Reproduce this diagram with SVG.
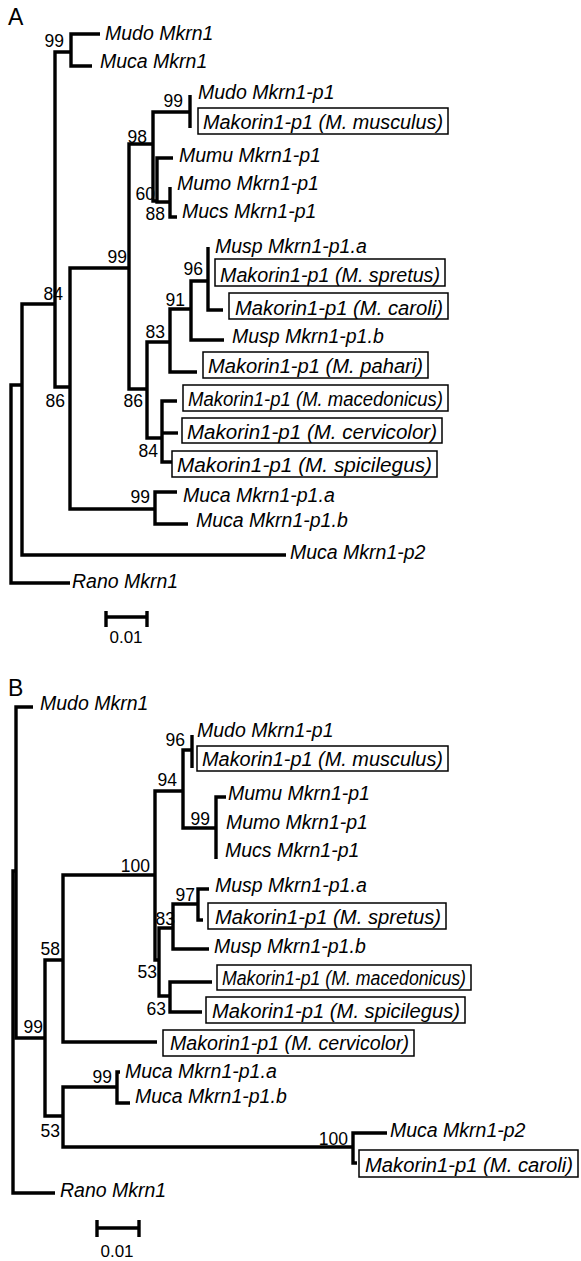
<svg xmlns="http://www.w3.org/2000/svg" width="581" height="1261" viewBox="0 0 581 1261">
<style>
.br{fill:none;stroke:#000;stroke-width:3.4;stroke-linejoin:miter}
.lf{font-family:"Liberation Sans",Arial,sans-serif;font-style:italic;font-size:19.5px;fill:#000}
.bs{font-family:"Liberation Sans",Arial,sans-serif;font-size:17.5px;fill:#000;text-anchor:end}
.bx{fill:#fff;stroke:#000;stroke-width:1.5}
.pl{font-family:"Liberation Sans",Arial,sans-serif;font-size:23px;fill:#000}
.sc{font-family:"Liberation Sans",Arial,sans-serif;font-size:17px;fill:#000;text-anchor:middle}
</style>
<rect width="581" height="1261" fill="#fff"/>
<text class="pl" x="8" y="25">A</text>
<text class="pl" x="8" y="696">B</text>
<g id="connectors">
<g id="treeA">
<path class="br" d="M70 583 H11 V385 H22"/>
<path class="br" d="M55 304 H22 V555 H286"/>
<path class="br" d="M71 52 H55 V387 H70"/>
<path class="br" d="M100 34 H71 V66 H92"/>
<path class="br" d="M129 268 H70 V509 H155"/>
<path class="br" d="M177 492 H155 V524 H188"/>
<path class="br" d="M153 144 H129 V389 H147"/>
<path class="br" d="M190 112 H153 V201 H157"/>
<path class="br" d="M190 95 V128"/>
<path class="br" d="M173 158 H157 V202 H170"/>
<path class="br" d="M170 187 V217 H177"/>
<path class="br" d="M170 342 H147 V438 H162"/>
<path class="br" d="M191 309 H170 V372 H197"/>
<path class="br" d="M208 281 H191 V340 H224"/>
<path class="br" d="M208 247 V310 H223"/>
<path class="br" d="M177 401 H162 V462 H172"/>
<path class="br" d="M162 433 H178"/>
<path class="br" d="M106 617 H147 M106 611 V627 M147 611 V627"/>
</g>
<g id="treeB">
<path class="br" d="M16 871 H13 V1193 H55"/>
<path class="br" d="M33 707 H16 V1038 H45"/>
<path class="br" d="M63 960 H45 V1116 H63"/>
<path class="br" d="M155 875 H63 V1042 H157"/>
<path class="br" d="M183 791 H155 V960 H159"/>
<path class="br" d="M192 750 H183 V828 H216"/>
<path class="br" d="M192 735 V768"/>
<path class="br" d="M226 797 H216 V859"/>
<path class="br" d="M173 928 H159 V996 H170"/>
<path class="br" d="M198 904 H173 V949 H209"/>
<path class="br" d="M209 889 H198 V920 H203"/>
<path class="br" d="M212 982 H170 V1012 H202"/>
<path class="br" d="M117 1087 H63 V1147 H353"/>
<path class="br" d="M120 1072 H117 V1103 H130"/>
<path class="br" d="M387 1133 H353 V1163 H357"/>
<path class="br" d="M97 1228 H139 M97 1220 V1237 M139 1220 V1237"/>
</g>
</g>
<g id="support">
<text class="bs" x="64" y="47">99</text>
<text class="bs" x="183" y="107">99</text>
<text class="bs" x="147" y="143">98</text>
<text class="bs" x="155" y="200">60</text>
<text class="bs" x="165" y="220">88</text>
<text class="bs" x="127" y="263">99</text>
<text class="bs" x="203" y="275">96</text>
<text class="bs" x="185" y="306">91</text>
<text class="bs" x="165" y="338">83</text>
<text class="bs" x="63" y="300">84</text>
<text class="bs" x="65" y="407">86</text>
<text class="bs" x="143" y="407">86</text>
<text class="bs" x="158" y="457">84</text>
<text class="bs" x="150" y="503">99</text>
<text class="bs" x="185" y="746">96</text>
<text class="bs" x="177" y="786">94</text>
<text class="bs" x="210" y="825">99</text>
<text class="bs" x="150" y="872">100</text>
<text class="bs" x="195" y="901">97</text>
<text class="bs" x="175" y="925">83</text>
<text class="bs" x="157" y="978">53</text>
<text class="bs" x="166" y="1015">63</text>
<text class="bs" x="60" y="955">58</text>
<text class="bs" x="43" y="1033">99</text>
<text class="bs" x="112" y="1083">99</text>
<text class="bs" x="60" y="1137">53</text>
<text class="bs" x="348" y="1145">100</text>
</g>
<g id="scaleA"><text class="sc" x="126" y="643">0.01</text></g>
<g id="scaleB"><text class="sc" x="117" y="1257">0.01</text></g>
<g id="A-Mudo-Mkrn1"><text class="lf" x="105" y="40">Mudo Mkrn1</text></g>
<g id="A-Muca-Mkrn1"><text class="lf" x="100" y="68">Muca Mkrn1</text></g>
<g id="A-Mudo-Mkrn1-p1"><text class="lf" x="198" y="99">Mudo Mkrn1-p1</text></g>
<g id="A-musculus"><rect class="bx" x="198" y="108" width="250" height="26"/><text class="lf" x="203" y="129" textLength="240" lengthAdjust="spacingAndGlyphs">Makorin1-p1 (M. musculus)</text></g>
<g id="A-Mumu"><text class="lf" x="179" y="162">Mumu Mkrn1-p1</text></g>
<g id="A-Mumo"><text class="lf" x="177" y="190">Mumo Mkrn1-p1</text></g>
<g id="A-Mucs"><text class="lf" x="182" y="218">Mucs Mkrn1-p1</text></g>
<g id="A-Musp-a"><text class="lf" x="215" y="253">Musp Mkrn1-p1.a</text></g>
<g id="A-spretus"><rect class="bx" x="215" y="259" width="230" height="27"/><text class="lf" x="220" y="282" textLength="220" lengthAdjust="spacingAndGlyphs">Makorin1-p1 (M. spretus)</text></g>
<g id="A-caroli"><rect class="bx" x="229" y="293" width="219" height="26"/><text class="lf" x="235" y="315" textLength="208" lengthAdjust="spacingAndGlyphs">Makorin1-p1 (M. caroli)</text></g>
<g id="A-Musp-b"><text class="lf" x="232" y="343">Musp Mkrn1-p1.b</text></g>
<g id="A-pahari"><rect class="bx" x="203" y="352" width="225" height="26"/><text class="lf" x="208" y="373" textLength="215" lengthAdjust="spacingAndGlyphs">Makorin1-p1 (M. pahari)</text></g>
<g id="A-macedonicus"><rect class="bx" x="183" y="385" width="265" height="26"/><text class="lf" x="188" y="406" textLength="255" lengthAdjust="spacingAndGlyphs">Makorin1-p1 (M. macedonicus)</text></g>
<g id="A-cervicolor"><rect class="bx" x="182" y="418" width="260" height="25"/><text class="lf" x="187" y="439" textLength="250" lengthAdjust="spacingAndGlyphs">Makorin1-p1 (M. cervicolor)</text></g>
<g id="A-spicilegus"><rect class="bx" x="172" y="451" width="265" height="26"/><text class="lf" x="177" y="472" textLength="255" lengthAdjust="spacingAndGlyphs">Makorin1-p1 (M. spicilegus)</text></g>
<g id="A-Muca-p1a"><text class="lf" x="183" y="502">Muca Mkrn1-p1.a</text></g>
<g id="A-Muca-p1b"><text class="lf" x="196" y="527">Muca Mkrn1-p1.b</text></g>
<g id="A-Muca-p2"><text class="lf" x="290" y="559">Muca Mkrn1-p2</text></g>
<g id="A-Rano"><text class="lf" x="72" y="588">Rano Mkrn1</text></g>
<g id="B-Mudo-Mkrn1"><text class="lf" x="40" y="710">Mudo Mkrn1</text></g>
<g id="B-Mudo-Mkrn1-p1"><text class="lf" x="197" y="737">Mudo Mkrn1-p1</text></g>
<g id="B-musculus"><rect class="bx" x="197" y="746" width="251" height="25"/><text class="lf" x="202" y="766" textLength="241" lengthAdjust="spacingAndGlyphs">Makorin1-p1 (M. musculus)</text></g>
<g id="B-Mumu"><text class="lf" x="228" y="800">Mumu Mkrn1-p1</text></g>
<g id="B-Mumo"><text class="lf" x="226" y="829">Mumo Mkrn1-p1</text></g>
<g id="B-Mucs"><text class="lf" x="225" y="857">Mucs Mkrn1-p1</text></g>
<g id="B-Musp-a"><text class="lf" x="215" y="892">Musp Mkrn1-p1.a</text></g>
<g id="B-spretus"><rect class="bx" x="208" y="903" width="238" height="26"/><text class="lf" x="215" y="924" textLength="226" lengthAdjust="spacingAndGlyphs">Makorin1-p1 (M. spretus)</text></g>
<g id="B-Musp-b"><text class="lf" x="214" y="953">Musp Mkrn1-p1.b</text></g>
<g id="B-macedonicus"><rect class="bx" x="217" y="965" width="254" height="25"/><text class="lf" x="222" y="985" textLength="244" lengthAdjust="spacingAndGlyphs">Makorin1-p1 (M. macedonicus)</text></g>
<g id="B-spicilegus"><rect class="bx" x="206" y="997" width="259" height="26"/><text class="lf" x="212" y="1018" textLength="248" lengthAdjust="spacingAndGlyphs">Makorin1-p1 (M. spicilegus)</text></g>
<g id="B-cervicolor"><rect class="bx" x="163" y="1030" width="251" height="26"/><text class="lf" x="170" y="1050" textLength="239" lengthAdjust="spacingAndGlyphs">Makorin1-p1 (M. cervicolor)</text></g>
<g id="B-Muca-p1a"><text class="lf" x="125" y="1078">Muca Mkrn1-p1.a</text></g>
<g id="B-Muca-p1b"><text class="lf" x="135" y="1103">Muca Mkrn1-p1.b</text></g>
<g id="B-Muca-p2"><text class="lf" x="390" y="1137">Muca Mkrn1-p2</text></g>
<g id="B-caroli"><rect class="bx" x="359" y="1150" width="219" height="27"/><text class="lf" x="365" y="1172" textLength="208" lengthAdjust="spacingAndGlyphs">Makorin1-p1 (M. caroli)</text></g>
<g id="B-Rano"><text class="lf" x="60" y="1197">Rano Mkrn1</text></g>
</svg>
